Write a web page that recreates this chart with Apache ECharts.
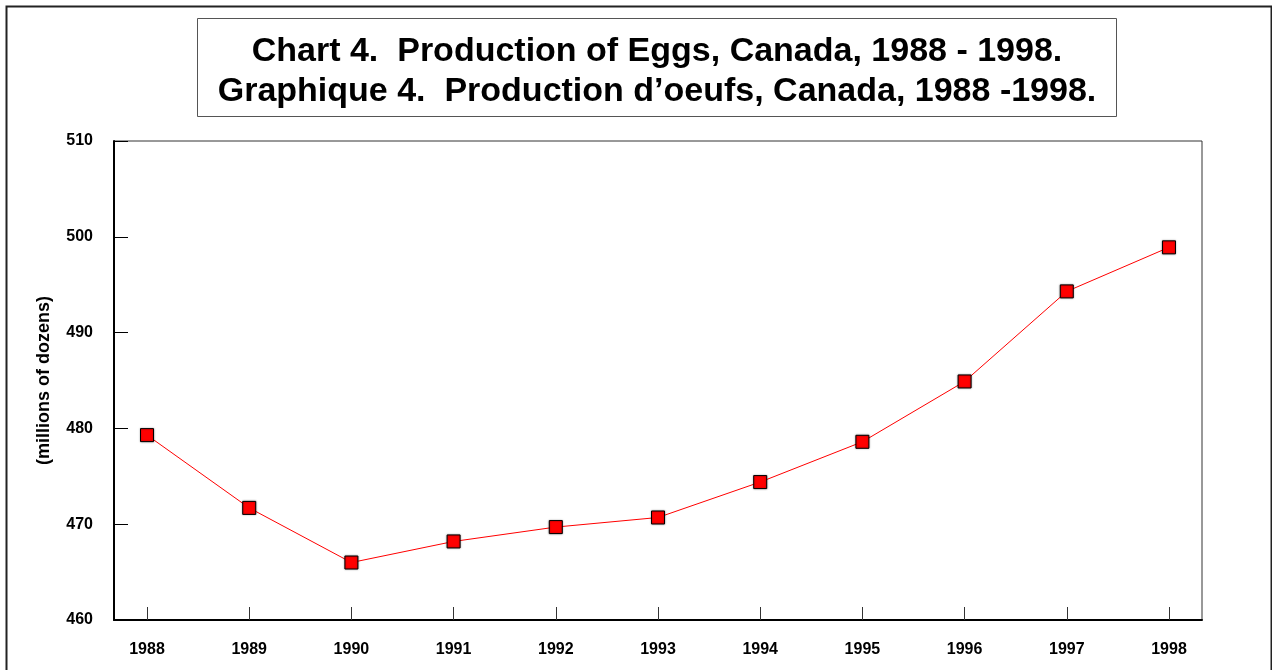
<!DOCTYPE html>
<html>
<head>
<meta charset="utf-8">
<script src="https://cdn.jsdelivr.net/npm/echarts@6/dist/echarts.min.js"></script>
<style>
	html, body { margin: 0; padding: 0; background: #fff; }
	#chart { width: 1272px; height: 670px; }
</style>
</head>
<body>
<div id="chart"></div>
<script>
var years = [1988, 1989, 1990, 1991, 1992, 1993, 1994, 1995, 1996, 1997, 1998];
var production = [479.3, 471.7, 466.0, 468.2, 469.7, 470.7, 474.4, 478.6, 484.9, 494.3, 498.9];
var yTicks = [460, 470, 480, 490, 500, 510];

var myChart = echarts.init(document.getElementById('chart'));
var font = 'Arial, "Liberation Sans", sans-serif';

var option = {
	backgroundColor: '#fff',
	animation: false,
	title: {
		text: 'Chart 4.  Production of Eggs, Canada, 1988 - 1998.\nGraphique 4.  Production d\u2019oeufs, Canada, 1988 -1998.',
		left: 637,   // box is offset by the left padding when textAlign is centre
		top: 18,
		textAlign: 'center',
		padding: [14, 20, 5, 20],
		borderColor: '#555',
		borderWidth: 1,
		textStyle: {
			fontFamily: font,
			fontWeight: 'bold',
			fontSize: 34,
			lineHeight: 40,
			color: '#000'
		}
	},
	graphic: [{
		type: 'rect',
		left: 4,
		top: 4,
		shape: { width: 1265, height: 700 },
		style: { fill: 'none', stroke: '#222', lineWidth: 2 },
		silent: true
	}],
	grid: {
		left: 114,
		top: 141,
		right: 70,
		bottom: 50,
		show: true,
		borderColor: '#333',
		borderWidth: 1
	},
	xAxis: {
		type: 'value',
		min: 1987.677,
		max: 1998.323,
		splitLine: { show: false },
		axisLine: { lineStyle: { color: '#000', width: 2 } },
		axisTick: {
			inside: true,
			length: 13,
			customValues: years,
			lineStyle: { color: '#333' }
		},
		axisLabel: {
			customValues: years,
			margin: 22,
			formatter: function (v) { return String(Math.round(v)); },
			fontFamily: font,
			fontWeight: 'bold',
			fontSize: 16,
			color: '#000'
		}
	},
	yAxis: {
		type: 'value',
		min: 460,
		max: 510,
		interval: 10,
		name: '(millions of dozens)',
		nameLocation: 'middle',
		nameRotate: 90,
		nameGap: 61,
		nameTextStyle: {
			fontFamily: font,
			fontWeight: 'bold',
			fontSize: 18,
			color: '#000'
		},
		splitLine: { show: false },
		axisLine: { show: true, lineStyle: { color: '#000', width: 2 } },
		axisTick: {
			inside: true,
			length: 14,
			customValues: yTicks,
			lineStyle: { color: '#000' }
		},
		axisLabel: {
			customValues: yTicks,
			margin: 21,
			fontFamily: font,
			fontWeight: 'bold',
			fontSize: 16,
			color: '#000'
		}
	},
	series: [{
		type: 'line',
		data: years.map(function (y, i) { return [y, production[i]]; }),
		symbol: 'rect',
		symbolSize: 13,
		lineStyle: { color: '#ff0000', width: 1 },
		itemStyle: {
			color: '#ff0000',
			borderColor: '#000',
			borderWidth: 1,
			shadowColor: 'rgba(0,0,0,0.35)',
			shadowBlur: 2
		}
	}]
};
myChart.setOption(option);
</script>
</body>
</html>
